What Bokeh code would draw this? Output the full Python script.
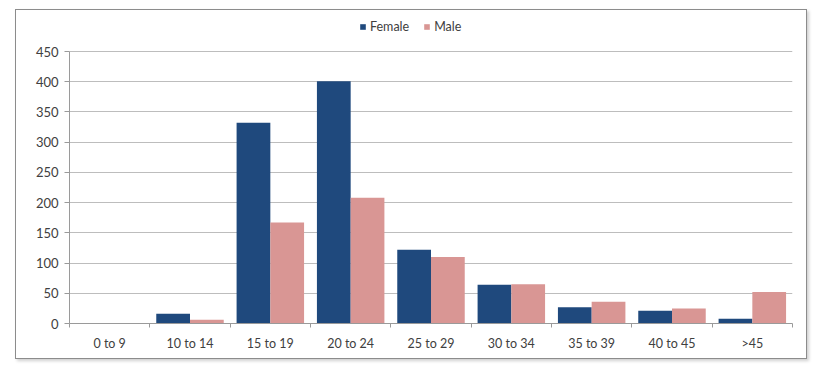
from bokeh.plotting import figure
from bokeh.models import ColumnDataSource, FixedTicker, Legend, LegendItem, Range1d
from bokeh.embed import file_html
from bokeh.resources import INLINE

categories = ["0 to 9", "10 to 14", "15 to 19", "20 to 24", "25 to 29",
              "30 to 34", "35 to 39", "40 to 45", ">45"]
female = [0, 16, 332, 401, 122, 64, 27, 21, 8]
male = [1, 6, 167, 208, 110, 65, 36, 25, 52]
y_ticks = [0, 50, 100, 150, 200, 250, 300, 350, 400, 450]

FEMALE_COLOR = "#1F497D"
MALE_COLOR = "#D99694"
FONT = "Lato"

n = len(categories)
centers = [i + 0.5 for i in range(n)]
bw = 0.42
src = ColumnDataSource(dict(
    xf=[c - bw / 2 for c in centers],
    xm=[c + bw / 2 for c in centers],
    female=female, male=male, cat=categories))

# frame extends above the 450 line to leave room for the legend
p = figure(width=792, height=350, output_backend="svg", toolbar_location=None,
           x_range=Range1d(0, n), y_range=Range1d(0, 503),
           min_border_left=53, min_border_right=16, min_border_top=9,
           min_border_bottom=37)
p.margin = (9, 0, 0, 15)
p.styles = {"border": "1px solid #8c8c8c", "box-shadow": "2px 2px 3px #d0d0d0",
            "box-sizing": "border-box"}
p.outline_line_color = None
p.background_fill_color = "white"

rf = p.vbar(x="xf", top="female", width=bw, source=src, fill_color=FEMALE_COLOR,
            line_color=None)
rm = p.vbar(x="xm", top="male", width=bw, source=src, fill_color=MALE_COLOR,
            line_color=None)

# axes
p.xgrid.grid_line_color = None
p.ygrid.grid_line_color = "#BDBDBD"
p.ygrid.grid_line_width = 1
p.yaxis.ticker = FixedTicker(ticks=y_ticks)
p.yaxis.bounds = (0, 450)
p.yaxis.axis_line_color = "#9a9a9a"
p.yaxis.major_tick_line_color = "#9a9a9a"
p.yaxis.major_tick_out = 5
p.yaxis.major_tick_in = 0
p.yaxis.minor_tick_line_color = None
p.yaxis.major_label_text_font = FONT
p.yaxis.major_label_text_font_size = "13px"
p.yaxis.major_label_text_color = "#404040"
p.yaxis.major_label_standoff = 6

p.xaxis.ticker = FixedTicker(ticks=centers, minor_ticks=list(range(n + 1)))
p.xaxis.major_label_overrides = {c: cat for c, cat in zip(centers, categories)}
p.xaxis.axis_line_color = "#9a9a9a"
p.xaxis.major_tick_line_color = None
p.xaxis.major_tick_out = 0
p.xaxis.major_tick_in = 0
p.xaxis.minor_tick_line_color = "#9a9a9a"
p.xaxis.minor_tick_out = 4
p.xaxis.minor_tick_in = 0
p.xaxis.major_label_text_font = FONT
p.xaxis.major_label_text_font_size = "12.5px"
p.xaxis.major_label_text_color = "#404040"
p.xaxis.major_label_standoff = 8

legend = Legend(items=[LegendItem(label="Female", renderers=[rf]),
                       LegendItem(label="Male", renderers=[rm])],
                orientation="horizontal", location=(290, 289),
                glyph_width=7, glyph_height=7, label_text_font=FONT,
                label_text_font_size="12.5px", label_text_color="#404040",
                border_line_color=None, background_fill_alpha=0,
                padding=0, margin=0, spacing=14, label_standoff=4,
                label_height=12)
p.add_layout(legend, "center")

open("out.html", "w").write(file_html(p, INLINE))
